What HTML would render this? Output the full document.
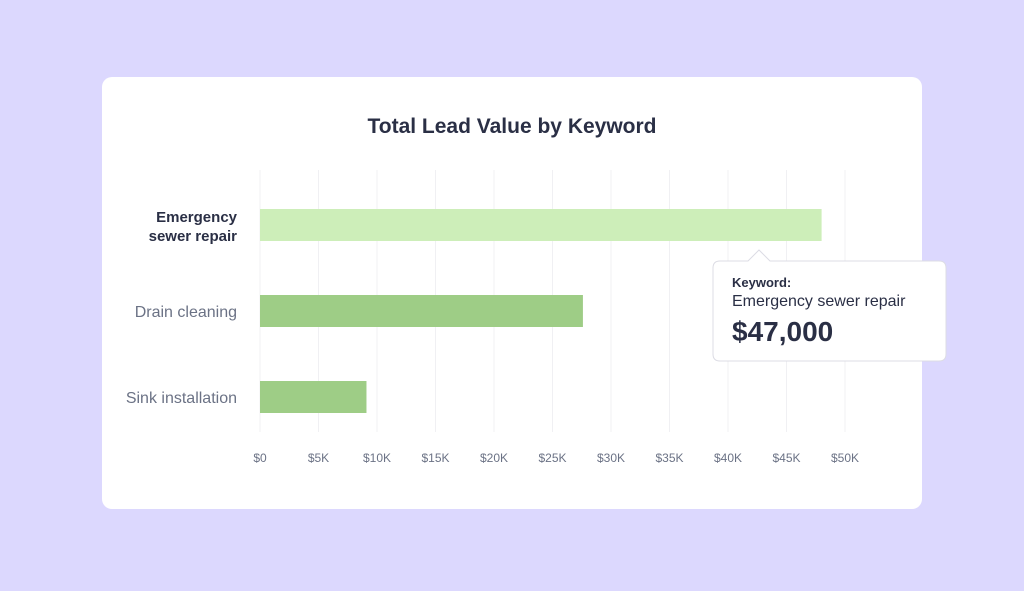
<!DOCTYPE html>
<html><head><meta charset="utf-8"><style>
html,body{margin:0;padding:0;background:#dcd8fe;}
body{width:1024px;height:586px;overflow:hidden;font-family:"Liberation Sans",sans-serif;}
</style></head><body>
<svg width="1024" height="586" xmlns="http://www.w3.org/2000/svg">
<rect x="0" y="0" width="1024" height="586" fill="#dcd8fe"/>
<rect x="102" y="77" width="820" height="432" rx="10" fill="#ffffff"/>
<text x="512" y="133" text-anchor="middle" font-size="21" font-weight="bold" fill="#2a2f45">Total Lead Value by Keyword</text>
<g id="grid"></g><g id="bars"></g><g id="labels"></g><g id="ticks"></g>
<g>
<path d="M720,261 L748,261 L759,250 L770,261 L939,261 Q946,261 946,268 L946,354 Q946,361 939,361 L720,361 Q713,361 713,354 L713,268 Q713,261 720,261 Z" fill="#fff" stroke="#dcdce4" stroke-width="1"/>
<text x="732" y="287" font-size="13" font-weight="bold" fill="#2a2f45">Keyword:</text>
<text x="732" y="306" font-size="16" fill="#2a2f45">Emergency sewer repair</text>
<text x="732" y="341" font-size="28" font-weight="bold" fill="#2a2f45">$47,000</text>
</g>
</svg>
<script>
const categories=["Emergency sewer repair","Drain cleaning","Sink installation"];
const values=[48000,27600,9100];
const tickValues=[0,5000,10000,15000,20000,25000,30000,35000,40000,45000,50000];
const tickLabels=["$0","$5K","$10K","$15K","$20K","$25K","$30K","$35K","$40K","$45K","$50K"];
const colors=["#cdeeb9","#9ecd86","#9ecd86"];
const NS="http://www.w3.org/2000/svg";
const x0=260,x1=845,max=50000;
const xs=v=>x0+(x1-x0)*v/max;
const ys=i=>209+i*86;
const bh=32;
function mk(t,a){const e=document.createElementNS(NS,t);for(const k in a)e.setAttribute(k,a[k]);return e;}
const grid=document.getElementById('grid'),bars=document.getElementById('bars'),labels=document.getElementById('labels'),ticks=document.getElementById('ticks');
tickValues.forEach((v,i)=>{
 const l=mk('line',{x1:xs(v),x2:xs(v),y1:170,y2:432,stroke:'#f0f0f3','stroke-width':1});
 
 
 grid.appendChild(l);
 const t=mk('text',{x:xs(v),y:462,'text-anchor':'middle','font-size':12,fill:'#6b7285'});
 t.textContent=tickLabels[i];
 
 
 ticks.appendChild(t);
});
categories.forEach((c,i)=>{
 const r=mk('rect',{x:xs(0),y:ys(i),width:xs(values[i])-xs(0),height:bh,fill:colors[i]});
 
 
 bars.appendChild(r);
 const cy=ys(i)+bh/2;
 if(i===0){
  const t=mk('text',{x:237,y:cy-3,'text-anchor':'end','font-size':15,'font-weight':'bold',fill:'#2a2f45'});
  const a=mk('tspan',{x:237});a.textContent="Emergency";
  const b=mk('tspan',{x:237,dy:19});b.textContent="sewer repair";
  t.appendChild(a);t.appendChild(b);
  
  
  labels.appendChild(t);
 } else {
  const t=mk('text',{x:237,y:cy+6,'text-anchor':'end','font-size':16,fill:'#6b7285'});
  t.textContent=c;
  
  
  labels.appendChild(t);
 }
});
</script>
</body></html>
